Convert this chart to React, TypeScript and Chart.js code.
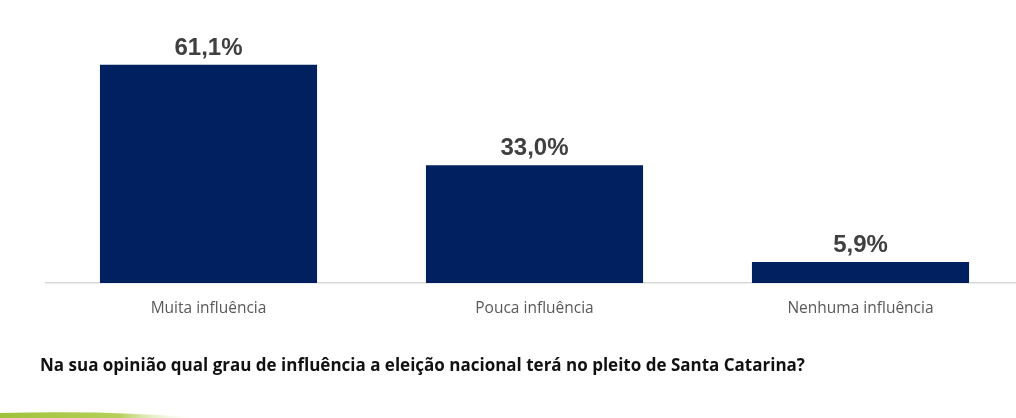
import React, { useEffect, useRef } from "react";
import { Chart, registerables } from "chart.js";

Chart.register(...registerables);

const categories: string[] = ["Muita influência", "Pouca influência", "Nenhuma influência"];
const values: number[] = [61.1, 33.0, 5.9];
const valueLabels: string[] = ["61,1%", "33,0%", "5,9%"];
const questionText = "Na sua opinião qual grau de influência a eleição nacional terá no pleito de Santa Catarina?";

const valueLabelPlugin = {
  id: "valueLabels",
  afterDatasetsDraw(chart: any) {
    const ctx = chart.ctx;
    const meta = chart.getDatasetMeta(0);
    ctx.save();
    ctx.font = "bold 24px 'Liberation Sans', Arial, sans-serif";
    ctx.fillStyle = "#404040";
    ctx.textAlign = "center";
    ctx.textBaseline = "alphabetic";
    meta.data.forEach((el: any, i: number) => {
      ctx.fillText(valueLabels[i], el.x, el.y - 10);
    });
    ctx.restore();
  },
};

const swooshPlugin = {
  id: "swoosh",
  afterDraw(chart: any) {
    const ctx = chart.ctx;
    const h = chart.height;
    ctx.save();
    const g = ctx.createLinearGradient(0, 0, 200, 0);
    g.addColorStop(0, "#9fc23a");
    g.addColorStop(0.6, "#b5d05a");
    g.addColorStop(1, "rgba(255,255,255,0)");
    ctx.fillStyle = g;
    ctx.beginPath();
    ctx.moveTo(0, h - 5);
    ctx.quadraticCurveTo(110, h - 8, 200, h);
    ctx.lineTo(0, h);
    ctx.closePath();
    ctx.fill();
    ctx.restore();
  },
};

export default function App() {
  const ref = useRef<HTMLCanvasElement | null>(null);
  useEffect(() => {
    if (!ref.current) return;
    const chart = new Chart(ref.current, {
      type: "bar",
      data: {
        labels: categories,
        datasets: [
          {
            data: values,
            backgroundColor: "#002060",
            borderWidth: 0,
            barPercentage: 0.666,
            categoryPercentage: 1,
          },
        ],
      },
      options: {
        responsive: false,
        animation: false,
        layout: { padding: { left: 45.5, right: 16.5, top: 33, bottom: 84.4 } },
        plugins: { legend: { display: false }, tooltip: { enabled: false } },
        scales: {
          x: {
            grid: { display: false, drawTicks: false },
            border: { display: true, color: "#d9d9d9", width: 1.5 },
            ticks: {
              color: "#595959",
              padding: 16,
              font: { family: "'Open Sans', Lato, sans-serif", size: 15.5 },
            },
          },
          y: { display: false, min: 0, max: 70 },
        },
      },
      plugins: [valueLabelPlugin, swooshPlugin],
    });
    return () => chart.destroy();
  }, []);
  return (
    <div style={{ position: "fixed", left: 0, top: 0, width: 1016, height: 418, overflow: "hidden", background: "#fff" }}>
      <canvas ref={ref} width={1040} height={418} style={{ position: "absolute", left: 0, top: 0, width: 1040, height: 418 }} />
      <div
        style={{
          position: "absolute",
          left: 40,
          top: 353,
          font: "bold 17px 'Open Sans', Lato, sans-serif",
          color: "#111",
          whiteSpace: "nowrap",
        }}
      >
        {questionText}
      </div>
    </div>
  );
}
